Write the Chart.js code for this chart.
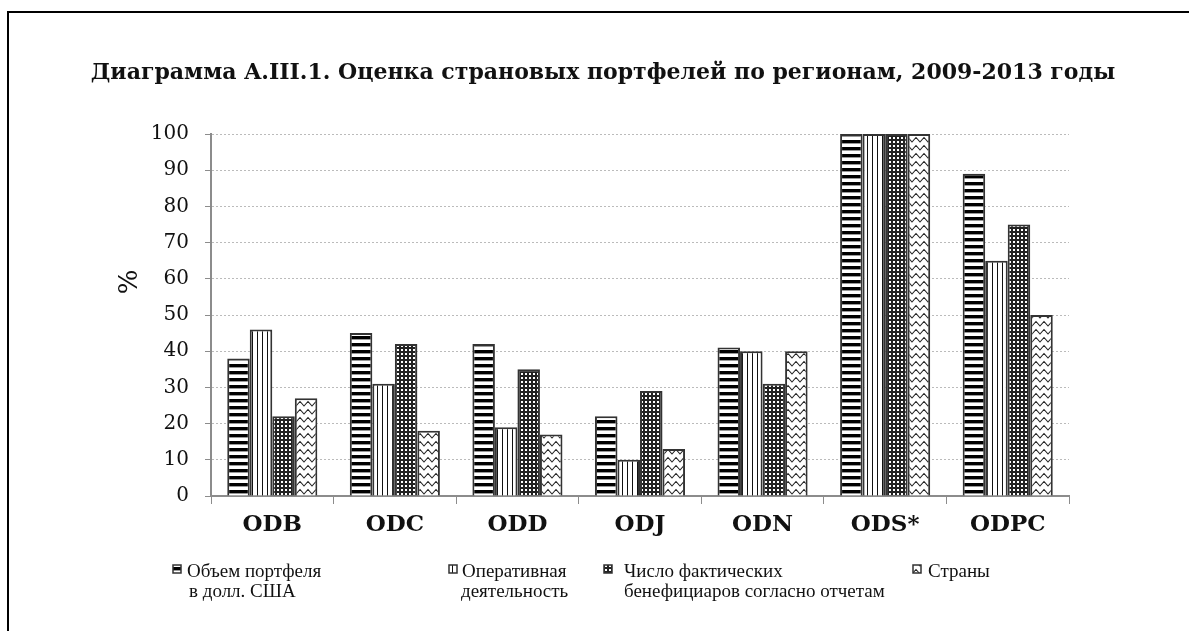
<!DOCTYPE html>
<html>
<head>
<meta charset="utf-8">
<script src="https://cdn.jsdelivr.net/npm/chart.js@4"></script>
<style>
  html, body { margin: 0; padding: 0; background: #fff; }
  #wrap { width: 1189px; height: 631px; }
</style>
</head>
<body>
<div id="wrap"><canvas id="grafico" width="1189" height="631"></canvas></div>
<script>
// datos
const categorias = ['ODB', 'ODC', 'ODD', 'ODJ', 'ODN', 'ODS*', 'ODPC'];
const nombresSeries = [
    ['Объем портфеля', 'в долл. США'],
    ['Оперативная', 'деятельность'],
    ['Число фактических', 'бенефициаров согласно отчетам'],
    ['Страны']
];
const volumenPortfel = [38, 45, 42, 22, 41, 100, 89];
const operativa = [46, 31, 19, 10, 40, 100, 65];
const beneficiarios = [22, 42, 35, 29, 31, 100, 75];
const paises = [27, 18, 17, 13, 40, 100, 50];
const yMin = 0, yMax = 100, yPaso = 10;
const titulo = 'Диаграмма A.III.1. Оценка страновых портфелей по регионам, 2009-2013 годы';
const tituloEje = '%';

const serifGeorgia = '"DejaVu Serif", serif';
const serifTexto = '"Liberation Serif", serif';

// patrones de relleno
function crearPatron(w, h, dibujar) {
    const c = document.createElement('canvas');
    c.width = w; c.height = h;
    const g = c.getContext('2d');
    g.fillStyle = '#fff';
    g.fillRect(0, 0, w, h);
    dibujar(g);
    return document.getElementById('grafico').getContext('2d').createPattern(c, 'repeat');
}

const patronHoriz = crearPatron(8, 7, (g) => {
    g.fillStyle = '#000';
    g.fillRect(0, 0, 8, 3);
    g.fillStyle = '#999';
    g.fillRect(0, 3, 8, 1);
});
const patronVert = crearPatron(5, 8, (g) => {
    g.fillStyle = '#111';
    g.fillRect(2, 0, 1, 8);
});
const patronCuadros = crearPatron(4, 4, (g) => {
    g.fillStyle = '#222';
    g.fillRect(0, 0, 4, 4);
    g.fillStyle = '#fff';
    g.fillRect(1, 1, 2, 2);
});
const patronZigzag = crearPatron(8, 8, (g) => {
    g.strokeStyle = '#222';
    g.lineWidth = 1.1;
    g.beginPath();
    g.moveTo(-4, 1.5);
    g.lineTo(0, 6);
    g.lineTo(4, 1.5);
    g.lineTo(8, 6);
    g.lineTo(12, 1.5);
    g.stroke();
});
const patrones = [patronHoriz, patronVert, patronCuadros, patronZigzag];

// leyenda: posiciones de cada elemento
const leyendaPos = [
    { cx: 173, tx: 187, tx2: 189 },
    { cx: 449, tx: 462, tx2: 461 },
    { cx: 604, tx: 624, tx2: 624 },
    { cx: 913, tx: 928, tx2: 928 }
];

const decoracion = {
    id: 'decoracion',
    afterDraw(chart) {
        const ctx = chart.ctx;
        ctx.save();
        // marco
        ctx.strokeStyle = '#000';
        ctx.lineWidth = 2;
        ctx.beginPath();
        ctx.moveTo(8, 631);
        ctx.lineTo(8, 12);
        ctx.lineTo(1189, 12);
        ctx.stroke();

        // titulo
        ctx.fillStyle = '#111';
        ctx.font = 'bold 22px ' + serifGeorgia;
        ctx.textAlign = 'center';
        ctx.textBaseline = 'middle';
        ctx.fillText(titulo, 603, 73);

        // titulo del eje
        ctx.save();
        ctx.translate(130, 282);
        ctx.rotate(-Math.PI / 2);
        ctx.font = '26px ' + serifGeorgia;
        ctx.fillText(tituloEje, 0, 0);
        ctx.restore();

        // leyenda
        ctx.font = '19px ' + serifTexto;
        ctx.textAlign = 'left';
        nombresSeries.forEach((lineas, i) => {
            const p = leyendaPos[i];
            ctx.fillStyle = patrones[i];
            ctx.fillRect(p.cx, 565, 8, 8);
            ctx.strokeStyle = '#333';
            ctx.lineWidth = 1.5;
            ctx.strokeRect(p.cx, 565, 8, 8);
            ctx.fillStyle = '#111';
            ctx.fillText(lineas[0], p.tx, 572);
            if (lineas[1]) ctx.fillText(lineas[1], p.tx2, 592);
        });
        ctx.restore();
    }
};

const ctx = document.getElementById('grafico').getContext('2d');
new Chart(ctx, {
    type: 'bar',
    data: {
        labels: categorias,
        datasets: [volumenPortfel, operativa, beneficiarios, paises].map((valores, i) => ({
            label: nombresSeries[i].join(' '),
            data: valores,
            backgroundColor: patrones[i],
            borderColor: '#333',
            borderWidth: 2,
            categoryPercentage: 0.735,
            barPercentage: 1.0,
        })),
    },
    options: {
        responsive: false,
        animation: false,
        layout: { padding: { top: 134, right: 120, left: 0, bottom: 0 } },
        plugins: {
            legend: { display: false },
            title: { display: false },
            tooltip: { enabled: false },
        },
        scales: {
            x: {
                afterFit: (scale) => { scale.height = 135; },
                grid: {
                    display: true,
                    drawOnChartArea: false,
                    drawTicks: true,
                    tickLength: 8,
                    color: '#8c8c8c',
                    offset: true,
                },
                border: { color: '#8c8c8c', width: 2 },
                ticks: {
                    color: '#111',
                    padding: 7,
                    font: { family: serifGeorgia, size: 23, weight: 'bold' },
                },
            },
            y: {
                min: yMin,
                max: yMax,
                afterFit: (scale) => { scale.width = 211; },
                grid: {
                    color: '#bbbbbb',
                    lineWidth: 1,
                    tickLength: 6,
                    tickColor: '#8c8c8c',
                    tickBorderDash: [],
                },
                border: { color: '#8c8c8c', width: 2, dash: [2, 2] },
                ticks: {
                    stepSize: yPaso,
                    color: '#111',
                    padding: 16,
                    font: { family: serifGeorgia, size: 20 },
                },
            },
        },
    },
    plugins: [decoracion],
});
</script>
</body>
</html>
